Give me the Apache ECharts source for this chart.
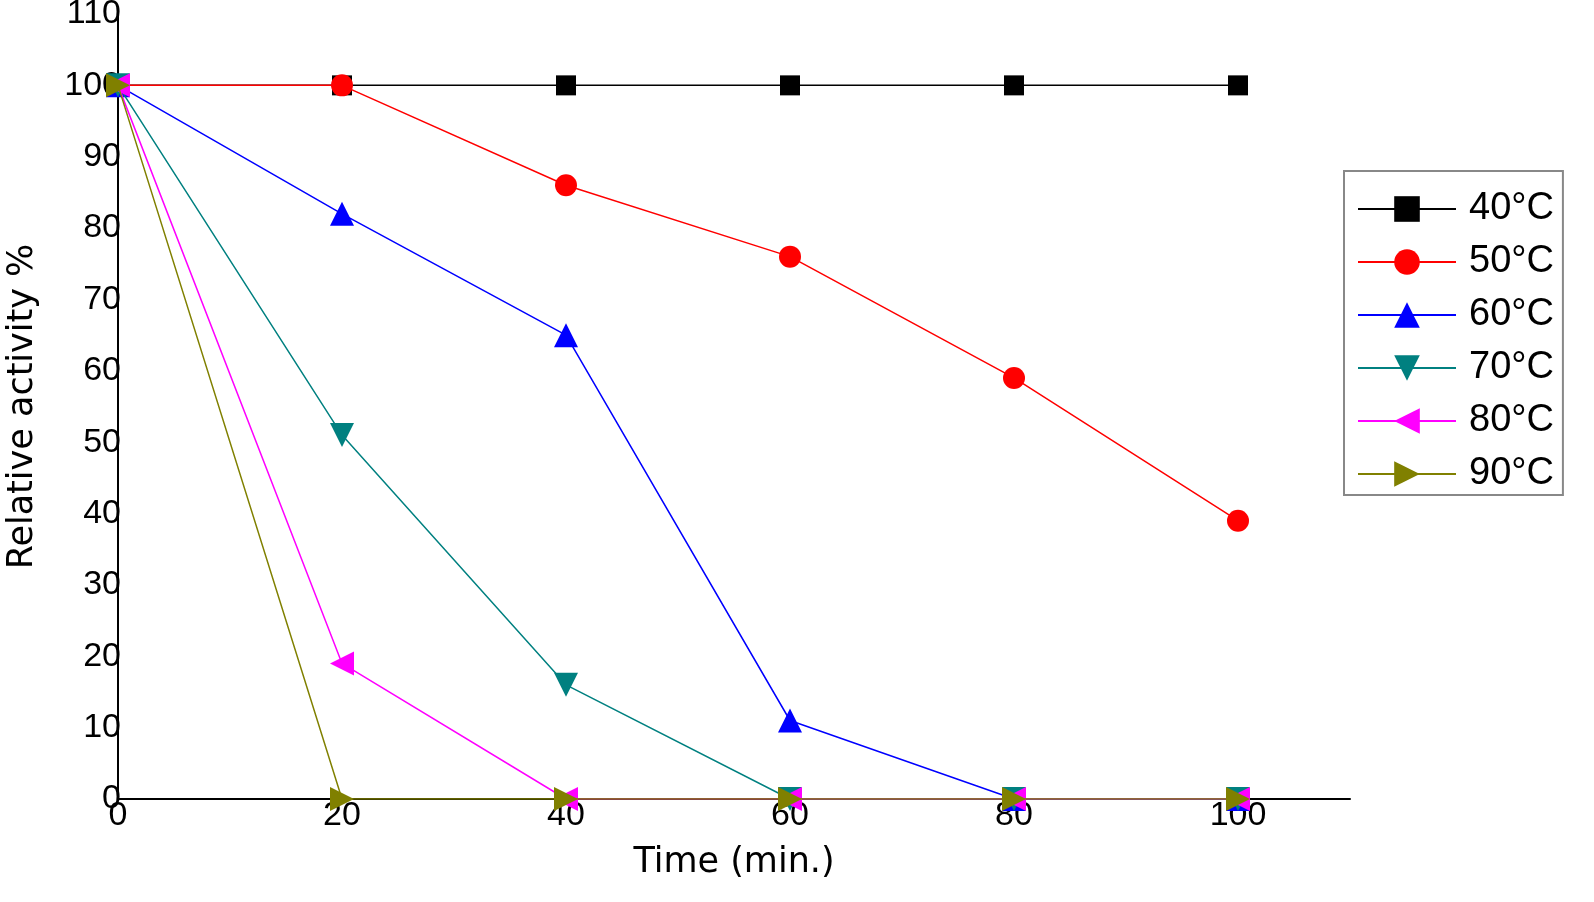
<!DOCTYPE html>
<html><head><meta charset="utf-8">
<script src="https://cdn.jsdelivr.net/npm/echarts@6/dist/echarts.min.js"></script>
<style>html,body{margin:0;padding:0;background:#fff}#c{width:1594px;height:902px}</style>
</head><body><div id="c"></div>
<script>
const times = [0, 20, 40, 60, 80, 100];
const names = ['40°C', '50°C', '60°C', '70°C', '80°C', '90°C'];
const t40 = [100, 100, 100, 100, 100, 100];
const t50 = [100, 100, 86, 76, 59, 39];
const t60 = [100, 82, 65, 11, 0, 0];
const t70 = [100, 51, 16, 0, 0, 0];
const t80 = [100, 19, 0, 0, 0, 0];
const t90 = [100, 0, 0, 0, 0, 0];
const values = [t40, t50, t60, t70, t80, t90];
const colors = ['#000000', '#ff0000', '#0000ff', '#008080', '#ff00ff', '#808000'];
const symbols = ['rect', 'circle', 'triangle', 'triangle', 'triangle', 'triangle'];
const rotates = [0, 0, 0, 180, 90, -90];
const sizes = [20, 22, 24, 24, 24, 24];

const chart = echarts.init(document.getElementById('c'));
const font = 'Liberation Sans, Arial, sans-serif';
const wide = 'DejaVu Sans, sans-serif';
chart.setOption({
  animation: false,
  textStyle: {fontFamily: font},
  grid: {left: 118, right: 244, top: 14, bottom: 103, containLabel: false, outerBoundsMode: 'none'},
  legend: {
    orient: 'vertical', left: 1344, top: 171,
    padding: [19, 9, 2, 13],
    itemWidth: 98, itemHeight: 32, itemGap: 15,
    borderColor: '#888', borderWidth: 2,
    textStyle: {fontSize: 38, fontFamily: font, color: '#000', lineHeight: 36, padding: [0, 0, 0, 8]},
    data: names
  },
  xAxis: {
    type: 'value', min: 0, max: 110, interval: 20,
    name: 'Time (min.)', nameLocation: 'middle', nameGap: 46,
    nameTextStyle: {fontSize: 35, color: '#000', fontFamily: wide},
    axisLine: {show: true, lineStyle: {color: '#000', width: 2}},
    axisTick: {show: false},
    splitLine: {show: false},
    axisLabel: {fontSize: 34, color: '#000', margin: 0, fontFamily: font,
      formatter: v => (v > 100 ? '' : String(v))}
  },
  yAxis: {
    type: 'value', min: 0, max: 110, interval: 10,
    name: 'Relative activity %', nameLocation: 'middle', nameGap: 78,
    nameTextStyle: {fontSize: 35, color: '#000', fontFamily: wide},
    axisLine: {show: true, lineStyle: {color: '#000', width: 2}},
    axisTick: {show: false},
    splitLine: {show: false},
    axisLabel: {fontSize: 34, color: '#000', margin: -3, fontFamily: font}
  },
  series: names.map((n, i) => ({
    name: n, type: 'line',
    data: times.map((t, j) => [t, values[i][j]]),
    symbol: symbols[i], symbolSize: sizes[i], symbolRotate: rotates[i],
    showAllSymbol: true,
    lineStyle: {color: colors[i], width: 1.5},
    itemStyle: {color: colors[i]},
    z: 2 + i
  }))
});
</script></body></html>
